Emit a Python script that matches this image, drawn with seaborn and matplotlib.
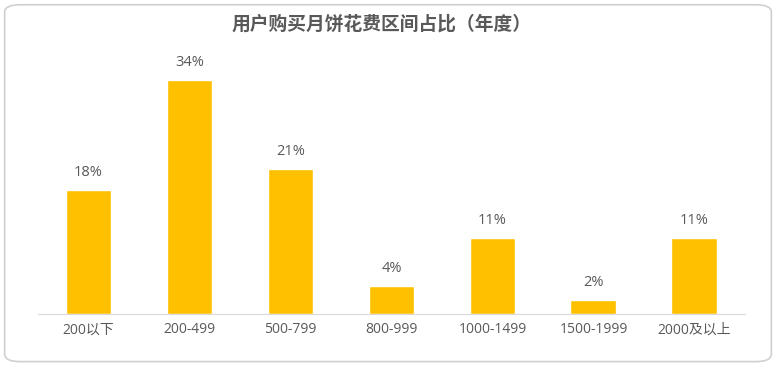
import pandas as pd
import seaborn as sns
import matplotlib.pyplot as plt
from matplotlib.patches import FancyBboxPatch

categories = ['200以下', '200-499', '500-799', '800-999', '1000-1499', '1500-1999', '2000及以上']
shares = [18, 34, 21, 4, 11, 2, 11]
labels = ['18%', '34%', '21%', '4%', '11%', '2%', '11%']

df = pd.DataFrame({'range': categories, 'share': shares})

sns.set_style('white')
plt.rcParams['font.family'] = ['Open Sans', 'Noto Sans CJK SC', 'DejaVu Sans']

fig = plt.figure(figsize=(7.76, 3.66), dpi=100)
ax = fig.add_axes([0.049, 0.142, 0.911, 0.749])

# rounded card border
fig.patches.append(FancyBboxPatch((0.006, 0.012), 0.988, 0.975, boxstyle='round,pad=0,rounding_size=0.02',
                                  transform=fig.transFigure, facecolor='white', edgecolor='#d0d0d0', lw=1.2, zorder=-1))

sns.barplot(data=df, x='range', y='share', color='#FFC000', saturation=1, width=0.455, ax=ax)

for i, (v, t) in enumerate(zip(shares, labels)):
    ax.text(i, v + 1.5, t, ha='center', va='bottom', fontsize=10.5, color='#595959')

ax.set_xlim(-0.5, 6.5)
ax.set_ylim(0, 39.8)
ax.set_xlabel('')
ax.set_ylabel('')
ax.set_yticks([])
ax.tick_params(axis='x', length=0, pad=6, labelsize=10, labelcolor='#595959')
for s in ['top', 'right', 'left']:
    ax.spines[s].set_visible(False)
ax.spines['bottom'].set_color('#d9d9d9')
ax.patch.set_alpha(0)

fig.text(0.492, 0.935, '用户购买月饼花费区间占比（年度）', ha='center', va='center',
         family=['Noto Sans CJK SC', 'DejaVu Sans'], fontsize=13.5, fontweight='bold', color='#595959')

fig.savefig('out.png', dpi=100)
